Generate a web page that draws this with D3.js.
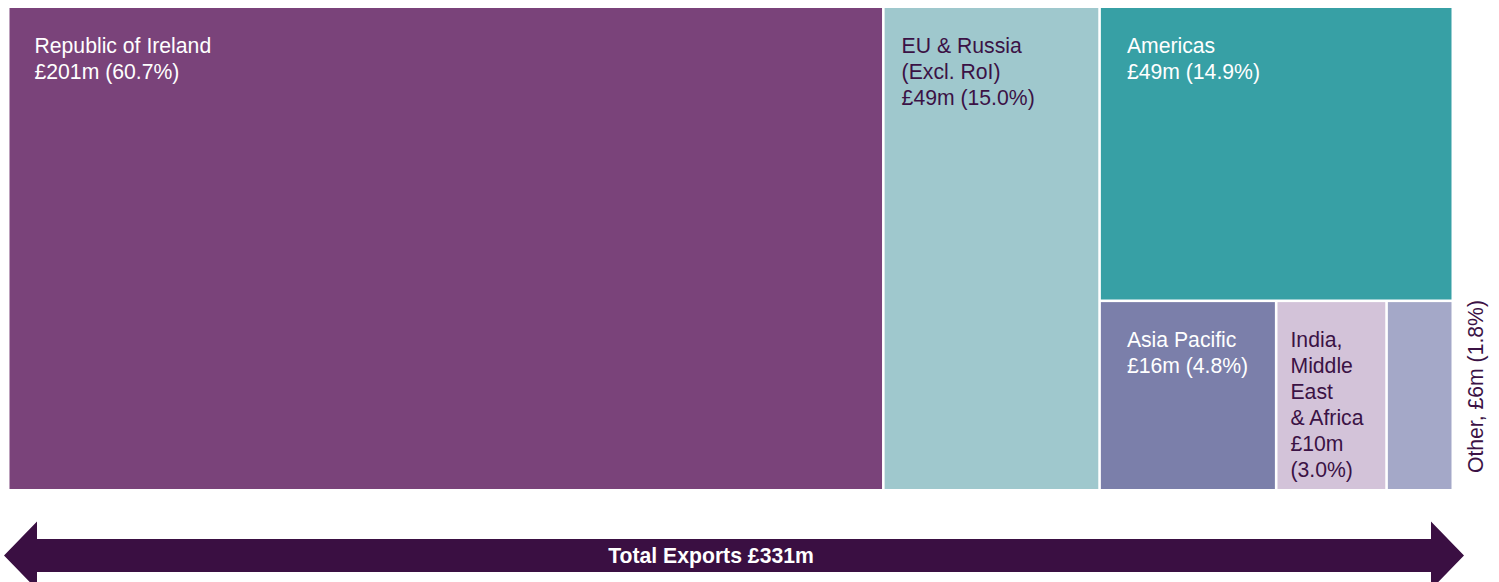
<!DOCTYPE html>
<html><head><meta charset="utf-8">
<script src="https://cdn.jsdelivr.net/npm/d3@7"></script>
<style>body{margin:0;background:#fff}svg{display:block}text{font-family:"Liberation Sans",Arial,sans-serif}</style>
</head><body><svg id="c" width="1499" height="582"></svg>
<script>
const regions = ["Republic of Ireland","EU & Russia (Excl. RoI)","Americas","Asia Pacific","India, Middle East & Africa","Other"];
const valuesM = [201, 49, 49, 16, 10, 6];
const percents = [60.7, 15.0, 14.9, 4.8, 3.0, 1.8];
const labelLines = [
  ["Republic of Ireland","£201m (60.7%)"],
  ["EU & Russia","(Excl. RoI)","£49m (15.0%)"],
  ["Americas","£49m (14.9%)"],
  ["Asia Pacific","£16m (4.8%)"],
  ["India,","Middle","East","& Africa","£10m","(3.0%)"],
  []
];
const outsideLabel = "Other, £6m (1.8%)";
const totalLabel = "Total Exports £331m";
const colors = ["#7a437a","#9fc8cd","#37a0a5","#7b7faa","#d3c3d9","#a4a8c8"];
const textColors = ["#ffffff","#3b1245","#ffffff","#ffffff","#3b1245","#3b1245"];
const labelDx = [25,17,26,26,13,0];

const svg = d3.select("#c");
const leaf = i => ({name: regions[i], value: percents[i], idx: i});
const data = {name:"root", children:[leaf(0), leaf(1), {name:"g1", children:[leaf(2), {name:"g2", children:[leaf(3), leaf(4), leaf(5)]}]}]};
const root = d3.hierarchy(data).sum(d => d.value || 0);
const tile = (node, x0, y0, x1, y1) => {
  if (node.depth === 1) d3.treemapSlice(node, x0, y0, x1, y1);
  else d3.treemapDice(node, x0, y0, x1, y1);
};
d3.treemap().tile(tile).size([1442, 481]).paddingInner(2.6).round(false)(root);

const g = svg.append("g").attr("transform","translate(9.5,8)");
const leaves = root.leaves();
g.selectAll("rect").data(leaves).join("rect")
  .attr("x", d => d.x0).attr("y", d => d.y0)
  .attr("width", d => d.x1 - d.x0).attr("height", d => d.y1 - d.y0)
  .attr("fill", d => colors[d.data.idx]);

leaves.forEach(d => {
  const i = d.data.idx;
  const lines = labelLines[i];
  const t = g.append("text").attr("fill", textColors[i]).attr("font-size", 21.2);
  lines.forEach((l, k) => t.append("tspan").attr("x", d.x0 + labelDx[i]).attr("y", d.y0 + 45 + k*26).text(l));
});

// Other label rotated outside
const other = leaves.find(d => d.data.idx === 5);
svg.append("text").attr("fill","#3b1245").attr("font-size",21.2).attr("text-anchor","middle")
  .attr("transform", `translate(1483,${8 + (other.y0 + other.y1)/2 - 9}) rotate(-90)`).text(outsideLabel);

// Double arrow
const ax0 = 4, ax1 = 1464, hw = 33, cy = 555.5, sh = 16.5, hh = 34;
const pts = [[ax0,cy],[ax0+hw,cy-hh],[ax0+hw,cy-sh],[ax1-hw,cy-sh],[ax1-hw,cy-hh],[ax1,cy],[ax1-hw,cy+hh],[ax1-hw,cy+sh],[ax0+hw,cy+sh],[ax0+hw,cy+hh]];
svg.append("path").attr("d", d3.line()(pts) + "Z").attr("fill","#3a0f42");
svg.append("text").attr("x",711).attr("y",cy+7.5).attr("text-anchor","middle").attr("fill","#fff")
  .attr("font-weight","bold").attr("font-size",21.2).text(totalLabel);
</script></body></html>
